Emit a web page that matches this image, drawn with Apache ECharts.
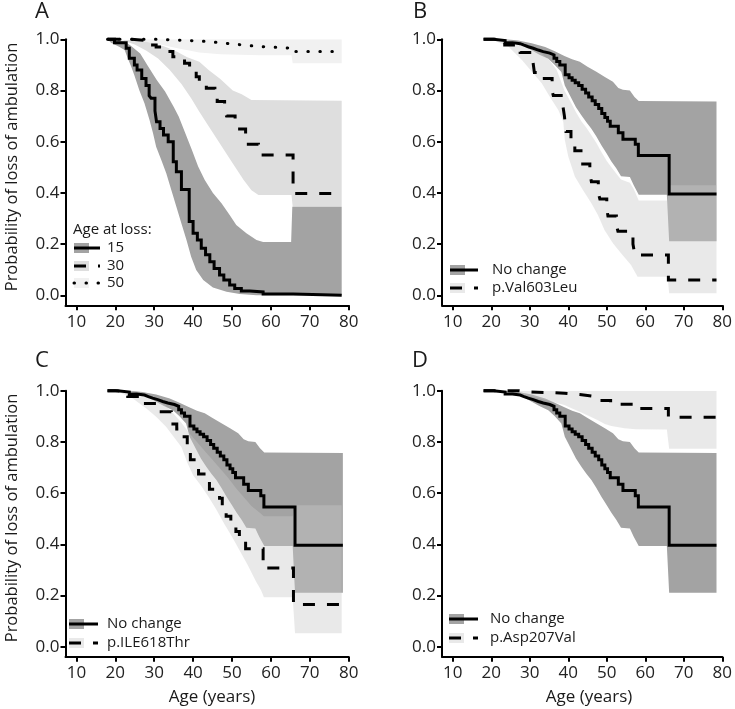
<!DOCTYPE html>
<html><head><meta charset="utf-8">
<script src="https://cdn.jsdelivr.net/npm/echarts@6/dist/echarts.min.js"></script>
<style>html,body{margin:0;padding:0;background:#fff}#c{width:735px;height:709px}</style>
</head><body><div id="c"></div>
<script>
// ---------- tick labels ----------
const xTicks = [10, 20, 30, 40, 50, 60, 70, 80];
const yTicks = [0, 0.2, 0.4, 0.6, 0.8, 1.0];

// ---------- Panel A : age at loss 15 / 30 / 50 ----------
const a15Curve = [[18.1,1.0],[19.8,0.987],[22.8,0.965],[23.6,0.926],[24.9,0.9],[25.6,0.88],[26.8,0.847],[27.9,0.82],[28.7,0.78],[29.2,0.77],[30.2,0.72],[30.6,0.678],[31.5,0.652],[32.4,0.626],[33.6,0.6],[34.9,0.522],[35.7,0.483],[37.0,0.413],[39.0,0.288],[40.0,0.242],[41.1,0.216],[42.1,0.184],[43.2,0.158],[44.3,0.131],[45.4,0.105],[46.8,0.079],[47.9,0.06],[49.4,0.04],[50.7,0.027],[52.4,0.017],[54.6,0.013],[58.0,0.005],[65.7,0.0],[78.2,0.0]];
const a15Upper = [[18,1.0],[22.5,0.99],[24,0.975],[26.4,0.945],[28.5,0.893],[30.7,0.84],[32.8,0.796],[35,0.737],[36.3,0.698],[38,0.633],[39.7,0.568],[41.3,0.503],[43,0.45],[45.1,0.4],[47.3,0.36],[49.4,0.314],[51.1,0.275],[53.7,0.242],[56.3,0.216],[58,0.208],[65.2,0.208],[65.5,0.346],[78.2,0.346]];
const a15Lower = [[18,1.0],[18.9,0.987],[21.1,0.97],[22.4,0.958],[23.2,0.926],[24.1,0.893],[24.9,0.86],[26.2,0.8],[27.5,0.75],[28.8,0.685],[29.7,0.633],[30.5,0.58],[31.8,0.53],[33.1,0.477],[34.4,0.411],[35.7,0.346],[37,0.281],[38.3,0.216],[39.5,0.151],[40.8,0.099],[42.6,0.06],[45.1,0.031],[48.6,0.014],[52,0.005],[56.3,0.0],[78.2,0.0]];

const a30Curve = [[18,1.0],[24,0.995],[28,0.978],[30.5,0.97],[33.5,0.952],[34.8,0.932],[37.8,0.906],[39.1,0.893],[40.8,0.854],[41.6,0.835],[43.4,0.809],[45.6,0.79],[46.2,0.757],[48.1,0.724],[48.6,0.70],[50.8,0.672],[51.2,0.65],[53.5,0.62],[54.2,0.59],[56.8,0.57],[57.3,0.548],[65.7,0.398],[78,0.398]];
const a30Upper = [[18,1.0],[26,0.995],[30,0.985],[33,0.97],[36,0.95],[38.5,0.93],[41.6,0.912],[44,0.88],[47,0.845],[50.2,0.80],[52.5,0.785],[55,0.763],[78.2,0.76]];
const a30Lower = [[18,1.0],[22,0.995],[25,0.98],[28,0.955],[31,0.925],[34,0.88],[37,0.825],[39.5,0.77],[41.6,0.717],[44,0.66],[47,0.59],[50,0.52],[53,0.45],[55,0.41],[56.8,0.392],[65.3,0.392],[65.6,0.346],[78.2,0.346]];

const a50Curve = [[18,1.0],[30,0.997],[36,0.993],[42,0.988],[46,0.982],[50,0.976],[54,0.971],[58,0.965],[65.7,0.952],[78,0.952]];
const a50Upper = [[18,1.0],[78.2,1.0]];
const a50Lower = [[18,1.0],[24,1.0],[30,0.985],[36,0.965],[41.6,0.948],[47,0.942],[52,0.94],[57.4,0.938],[65.3,0.938],[65.6,0.906],[78.2,0.906]];

// ---------- "No change" (panels B, C, D) ----------
const ncCurve = [[18,1.0],[20.6,0.995],[23.6,0.987],[25.5,0.983],[27.5,0.977],[28.5,0.971],[29.6,0.965],[30.9,0.958],[32.2,0.952],[33.5,0.946],[35.2,0.939],[36.3,0.926],[37.0,0.913],[37.8,0.90],[39.2,0.862],[40.2,0.85],[41.0,0.84],[41.8,0.83],[42.7,0.82],[43.6,0.805],[44.5,0.79],[45.3,0.775],[46.2,0.76],[47.0,0.745],[47.9,0.73],[48.7,0.71],[49.5,0.695],[50.2,0.68],[50.9,0.66],[53.0,0.635],[54.2,0.61],[57.4,0.59],[58.2,0.546],[66.2,0.396],[78.5,0.396]];
const ncUpper = [[18,1.0],[24,1.0],[27,0.995],[30.5,0.985],[34,0.97],[36.5,0.953],[39,0.935],[41,0.922],[43,0.912],[45,0.893],[47.3,0.873],[49.5,0.853],[51.6,0.834],[53,0.81],[54.2,0.803],[56,0.80],[57.2,0.775],[58.3,0.759],[78.5,0.757]];
const ncLower = [[18,1.0],[22,1.0],[26,0.99],[28,0.978],[30.5,0.957],[32.5,0.94],[34.8,0.924],[36.5,0.90],[38.2,0.872],[39.1,0.82],[40.8,0.77],[42,0.735],[43.4,0.703],[44.7,0.676],[46,0.651],[47.3,0.62],[48.6,0.586],[50,0.553],[51.2,0.523],[52.5,0.495],[53.7,0.465],[56,0.462],[57,0.43],[58.3,0.393],[65.6,0.393],[66.2,0.211],[78.5,0.211]];

// ---------- Panel B : p.Val603Leu ----------
const bCurve = [[18,1.0],[21,0.996],[23.5,0.978],[26.8,0.96],[27.5,0.948],[30.8,0.915],[31.2,0.87],[33.2,0.847],[35.8,0.80],[36.1,0.78],[38.6,0.74],[39.0,0.70],[39.4,0.64],[40.7,0.60],[41.7,0.565],[43.3,0.513],[45.6,0.48],[46.0,0.444],[47.8,0.40],[48.2,0.376],[50.0,0.34],[50.3,0.31],[52.5,0.275],[52.9,0.25],[56.8,0.2],[57.3,0.157],[66.0,0.06],[78.5,0.06]];
const bUpper = [[18,1.0],[25,0.995],[28,0.985],[31,0.965],[33,0.945],[35,0.92],[37,0.88],[39,0.80],[40.8,0.75],[42,0.715],[43.4,0.68],[44.7,0.655],[46,0.625],[47.3,0.595],[48.6,0.56],[50,0.525],[51.2,0.50],[52.5,0.475],[53.7,0.452],[56,0.44],[57,0.415],[58.3,0.37],[65.7,0.37],[66.2,0.43],[78.5,0.43]];
const bLower = [[18,1.0],[20,1.0],[24.5,0.971],[27.9,0.92],[30.5,0.874],[33.1,0.828],[35.2,0.776],[37.4,0.724],[38.7,0.678],[39.1,0.607],[40,0.542],[41.7,0.464],[43.8,0.411],[46,0.36],[47.7,0.314],[49.4,0.255],[51.6,0.203],[53.7,0.164],[56.3,0.118],[58,0.073],[65.8,0.073],[66.2,0.008],[78.5,0.008]];

// ---------- Panel C : p.ILE618Thr ----------
const cCurve = [[18,1.0],[20,0.995],[23.2,0.977],[26.8,0.95],[30.8,0.918],[34.4,0.87],[35.8,0.85],[36.8,0.82],[38.5,0.79],[39.3,0.73],[41.4,0.675],[44.2,0.615],[46.8,0.58],[47.5,0.54],[48.5,0.51],[49.7,0.47],[51.0,0.45],[51.9,0.42],[53.5,0.383],[58,0.307],[65.8,0.165],[78,0.165]];
const cUpper = [[18,1.0],[24,1.0],[27,0.99],[30,0.97],[33,0.94],[35,0.91],[37,0.875],[39,0.835],[41,0.80],[43,0.764],[45,0.73],[47,0.695],[49,0.66],[51,0.62],[53,0.585],[55,0.55],[57,0.525],[58.2,0.51],[65.6,0.51],[66.2,0.553],[78.2,0.553]];
const cLower = [[18,1.0],[21,0.995],[24.5,0.97],[28,0.93],[30.5,0.898],[33,0.86],[35,0.82],[37,0.78],[38.5,0.72],[40,0.67],[42,0.63],[44,0.585],[46,0.535],[48,0.48],[50,0.43],[52,0.375],[54,0.32],[56,0.26],[57.5,0.22],[58.2,0.193],[65.6,0.193],[66.2,0.053],[78.2,0.053]];

// ---------- Panel D : p.Asp207Val ----------
const dCurve = [[18,1.0],[27,0.995],[30,0.992],[36,0.99],[39,0.985],[43,0.979],[46,0.972],[47.5,0.962],[51,0.947],[57.5,0.93],[66,0.896],[78.5,0.896]];
const dUpper = [[18,1.0],[78.5,1.0]];
const dLower = [[18,1.0],[22,1.0],[26,0.99],[30.5,0.977],[35.7,0.957],[39,0.944],[41,0.93],[43.4,0.915],[45.5,0.9],[47.7,0.885],[49.5,0.87],[51.2,0.862],[54.6,0.853],[57.5,0.849],[65.6,0.848],[66.2,0.773],[78.5,0.773]];

// ---------- labels ----------
const panelLetters = ['A', 'B', 'C', 'D'];
const yTitle = 'Probability of loss of ambulation';
const xTitle = 'Age (years)';
const legendA = {title: 'Age at loss:', items: ['15', '30', '50']};
const legendB = ['No change', 'p.Val603Leu'];
const legendC = ['No change', 'p.ILE618Thr'];
const legendD = ['No change', 'p.Asp207Val'];

// ---------- styling ----------
const FONT = 'Open Sans';
const DARK = '#a3a3a3';
const LIGHT_OVER = 'rgba(200,200,200,0.4)';
const LIGHT_SOLID = '#e9e9e9';
const A30 = '#dedede';
const A50 = '#f1f1f1';
const DASH = [12, 12];
const DOT = [0.5, 11.5];

const grids = [
  {left: 65.5, top: 39.3, width: 283.2, height: 266},
  {left: 442, top: 39.3, width: 281.3, height: 266},
  {left: 65.5, top: 390.7, width: 283.2, height: 266},
  {left: 442, top: 390.7, width: 281.3, height: 266}
];
const axisCommon = {
  axisLine: {show: true, onZero: false, lineStyle: {color: '#000', width: 2}},
  axisTick: {show: true, inside: false, length: 5, lineStyle: {color: '#000', width: 2}},
  splitLine: {show: false}
};
const xAxes = grids.map((g, i) => Object.assign({}, axisCommon, {
  type: 'value', gridIndex: i, min: 7.2, max: 80,
  axisTick: Object.assign({}, axisCommon.axisTick, {customValues: xTicks}),
  axisLabel: {customValues: xTicks, fontFamily: FONT, fontSize: 17, color: '#222', margin: 8}
}));
const yAxes = grids.map((g, i) => Object.assign({}, axisCommon, {
  type: 'value', gridIndex: i, min: -0.039, max: 1.0,
  axisTick: Object.assign({}, axisCommon.axisTick, {customValues: yTicks}),
  axisLabel: {customValues: yTicks, fontFamily: FONT, fontSize: 17, color: '#222', margin: 6,
    formatter: v => v.toFixed(1)}
}));

function band(idx, upper, lower, fill, z) {
  return {
    type: 'custom', xAxisIndex: idx, yAxisIndex: idx, silent: true, z: z, clip: true,
    data: upper,
    renderItem: function (params, api) {
      if (params.dataIndex !== 0) return null;
      const pts = upper.map(p => api.coord(p)).concat(lower.slice().reverse().map(p => api.coord(p)));
      return {type: 'polygon', shape: {points: pts}, style: {fill: fill, stroke: null}};
    }
  };
}
function curve(idx, data, dash) {
  return {
    type: 'line', xAxisIndex: idx, yAxisIndex: idx, data: data, step: 'end',
    symbol: 'none', showSymbol: false, silent: true, z: 10, clip: false,
    lineStyle: {color: '#000', width: 3, type: dash || 'solid', cap: dash === DOT ? 'round' : 'butt', join: 'miter'}
  };
}

const series = [
  band(0, a50Upper, a50Lower, A50, 1),
  band(0, a30Upper, a30Lower, A30, 2),
  band(0, a15Upper, a15Lower, DARK, 3),
  curve(0, a15Curve), curve(0, a30Curve, DASH), curve(0, a50Curve, DOT),
  band(1, ncUpper, ncLower, DARK, 1), band(1, bUpper, bLower, LIGHT_OVER, 2),
  curve(1, ncCurve), curve(1, bCurve, DASH),
  band(2, ncUpper, ncLower, DARK, 1), band(2, cUpper, cLower, LIGHT_OVER, 2),
  curve(2, ncCurve), curve(2, cCurve, DASH),
  band(3, ncUpper, ncLower, DARK, 1), band(3, dUpper, dLower, LIGHT_OVER, 2),
  curve(3, ncCurve), curve(3, dCurve, DASH)
];

// ---------- decorations (text + legend keys) ----------
const graphic = [];
function txt(text, x, y, size, align, rot) {
  graphic.push({type: 'text', x: x, y: y, rotation: rot || 0, z: 100,
    style: {text: text, fontFamily: FONT, fontSize: size, fill: '#1a1a1a', align: align || 'left', verticalAlign: 'middle'}});
}
function key(x, y, fill, dash, lineEnd) {
  graphic.push({type: 'rect', z: 100, shape: {x: x, y: y - 5, width: 15, height: 10}, style: {fill: fill}});
  graphic.push({type: 'line', z: 101, shape: {x1: x, y1: y, x2: lineEnd, y2: y},
    style: {stroke: '#000', lineWidth: 3, lineDash: dash || null, lineCap: dash === DOT ? 'round' : 'butt'}});
}
const letterPos = [[42, 12], [420, 12], [42, 361], [420, 361]];
panelLetters.forEach((l, i) => txt(l, letterPos[i][0], letterPos[i][1], 22, 'center'));
txt(yTitle, 12, 167, 16.5, 'center', Math.PI / 2);
txt(yTitle, 12, 518, 16.5, 'center', Math.PI / 2);
txt(xTitle, 212, 697, 17, 'center');
txt(xTitle, 589, 697, 17, 'center');

// Legend A
txt(legendA.title, 73, 230, 15);
key(74, 248, DARK, null, 100); txt(legendA.items[0], 107, 248, 15);
key(74, 266, A30, DASH, 100); txt(legendA.items[1], 107, 266, 15);
key(74, 283, A50, DOT, 100); txt(legendA.items[2], 107, 283, 15);
// Legend B
key(450, 270, DARK, null, 478); txt(legendB[0], 492, 270, 15);
key(450, 288, LIGHT_SOLID, DASH, 478); txt(legendB[1], 492, 288, 15);
// Legend C
key(69, 624, DARK, null, 98); txt(legendC[0], 107, 624, 15);
key(69, 643, LIGHT_SOLID, DASH, 98); txt(legendC[1], 107, 643, 15);
// Legend D
key(449, 619, DARK, null, 478); txt(legendD[0], 490, 619, 15);
key(449, 638, LIGHT_SOLID, DASH, 478); txt(legendD[1], 490, 638, 15);

const chart = echarts.init(document.getElementById('c'), null, {renderer: 'canvas'});
chart.setOption({
  animation: false,
  backgroundColor: '#fff',
  grid: grids,
  xAxis: xAxes,
  yAxis: yAxes,
  series: series,
  graphic: graphic
});
</script>
</body></html>
